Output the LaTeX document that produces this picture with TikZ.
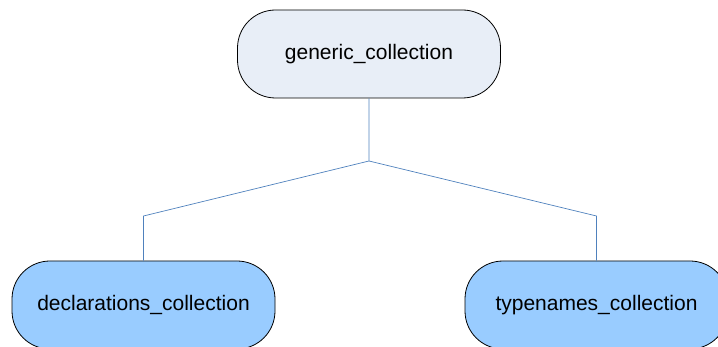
\documentclass[tikz,border=0pt]{standalone}
\usepackage{fontspec}
\setmainfont{Liberation Sans}
\usetikzlibrary{positioning}
\definecolor{topfill}{RGB}{232,238,247}
\definecolor{leaffill}{RGB}{153,204,255}
\definecolor{linkblue}{RGB}{79,129,189}

\begin{document}
\begin{tikzpicture}[x=1pt, y=-1pt,
    coll/.style={draw=black, line width=0.8pt, rounded corners=38pt,
      minimum width=263pt, minimum height=88pt,
      font=\fontsize{21}{25}\selectfont},
    link/.style={draw=linkblue, line width=0.7pt}]
    \clip (0,0) rectangle (718,347);

    % collections
    \node[coll, fill=topfill] (generic) at (369,54) {generic\_collection};
    \node[coll, fill=leaffill] (decls) at (143.5,305) {declarations\_collection};
    \node[coll, fill=leaffill] (typenames) at (596.5,305) {typenames\_collection};

    % tree connectors
    \coordinate (fork) at (369,161);
    \coordinate (declsbend) at (143.5,216);
    \coordinate (typenamesbend) at (596.5,216);
    \draw[link] (generic.south) -- (fork) -- (declsbend) -- (decls.north);
    \draw[link] (fork) -- (typenamesbend) -- (typenames.north);
\end{tikzpicture}
\end{document}
